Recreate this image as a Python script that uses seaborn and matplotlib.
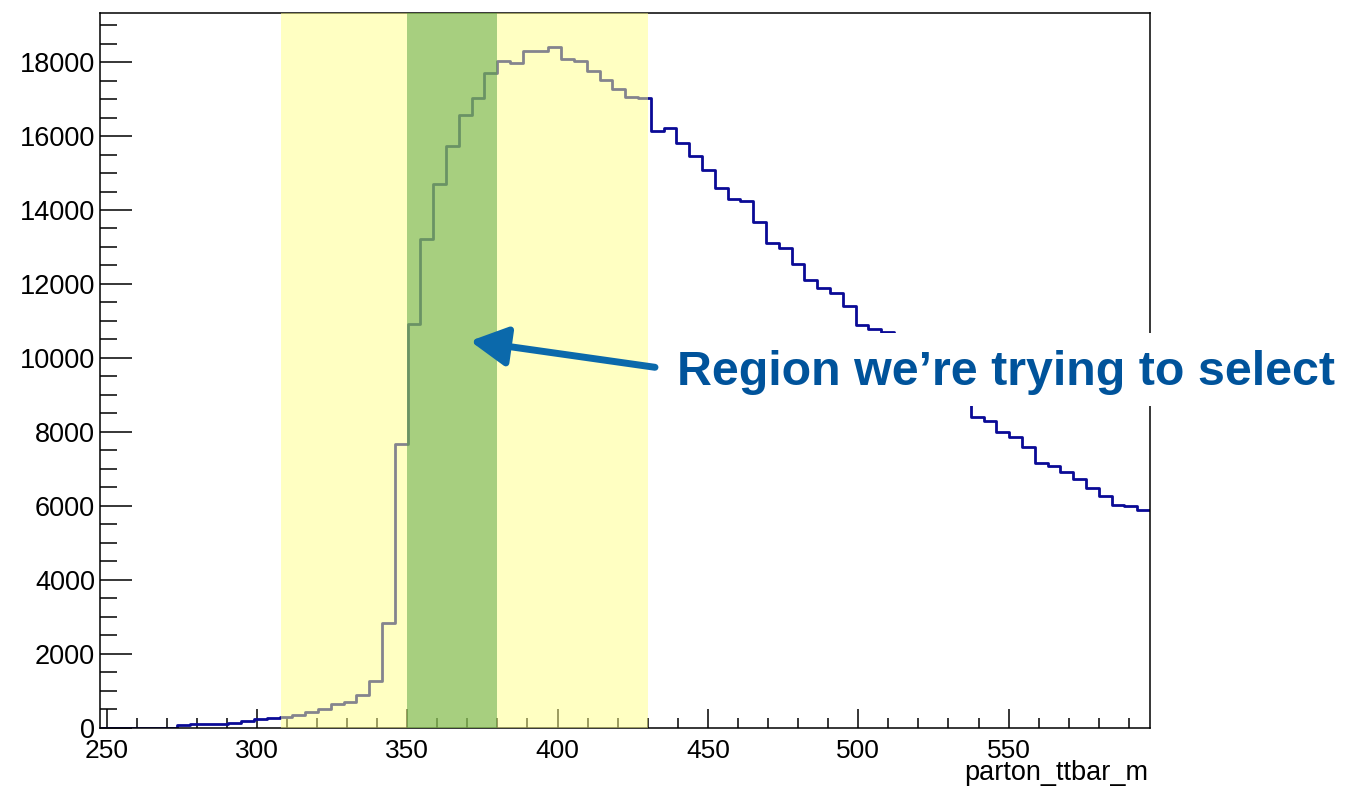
import numpy as np
import matplotlib
matplotlib.use("Agg")
import matplotlib.pyplot as plt
import seaborn as sns
from matplotlib.patches import Rectangle
from matplotlib.ticker import MultipleLocator

# parton_ttbar_m histogram: 82 equal bins between 248 and 597
x_min, x_max = 248.0, 597.0
counts = [
    0, 0, 0, 0, 0, 0, 80, 85, 90, 95,
    130, 170, 240, 255, 290, 340, 430, 500, 635, 700,
    880, 1260, 2820, 7660, 10920, 13220, 14710, 15720, 16570, 17020,
    17700, 18040, 17990, 18290, 18300, 18400, 18090, 18040, 17750, 17520,
    17280, 17070, 17020, 16130, 16220, 15820, 15450, 15090, 14590, 14300,
    14240, 13670, 13110, 12980, 12550, 12110, 11900, 11760, 11390, 10880,
    10790, 10700, 10450, 10150, 9800, 9450, 9100, 8750, 8400, 8290,
    8000, 7860, 7590, 7160, 7080, 6910, 6710, 6490, 6260, 6010,
    6000, 5880,
]
n_bins = len(counts)

yellow_band = (308, 430)
green_band = (350, 380)
note_text = "Region we\u2019re trying to select"
x_title = "parton_ttbar_m"

sns.set_style("ticks")
plt.rcParams["font.family"] = ["Liberation Sans", "DejaVu Sans"]
plt.rcParams["axes.edgecolor"] = "black"
plt.rcParams["xtick.color"] = "black"
plt.rcParams["ytick.color"] = "black"
plt.rcParams["text.color"] = "black"
plt.rcParams["axes.labelcolor"] = "black"

edges = np.linspace(x_min, x_max, n_bins + 1)
centers = 0.5 * (edges[:-1] + edges[1:])

fig = plt.figure(figsize=(13.47, 7.89), dpi=100)
ax = fig.add_axes([0.0746, 0.0779, 0.7791, 0.9052])

sns.histplot(x=centers, weights=counts, bins=n_bins, binrange=(x_min, x_max),
             element="step", fill=False, color="#0a0a96", linewidth=2.0,
             ax=ax, zorder=2)

# selection windows drawn on top, semi transparent (ROOT style)
ax.axvspan(*yellow_band, color=(1.0, 1.0, 135 / 255), alpha=0.5, lw=0, zorder=3)
ax.axvspan(*green_band, color=(81 / 255, 161 / 255, 61 / 255), alpha=0.5, lw=0, zorder=4)

ax.set_xlim(x_min, x_max)
ax.set_ylim(0, 19320)
ax.xaxis.set_major_locator(MultipleLocator(50))
ax.xaxis.set_minor_locator(MultipleLocator(10))
ax.yaxis.set_major_locator(MultipleLocator(2000))
ax.yaxis.set_minor_locator(MultipleLocator(500))

ax.tick_params(which="both", direction="in", top=False, right=False, width=1.1)
ax.tick_params(axis="x", which="major", length=13.7, labelsize=19, pad=8.0)
ax.tick_params(axis="x", which="minor", length=7)
ax.tick_params(axis="y", which="major", length=23, labelsize=19.5, pad=4.0)
ax.tick_params(axis="y", which="minor", length=12)
for sp in ax.spines.values():
    sp.set_visible(True)
    sp.set_linewidth(1.1)
    sp.set_color("black")

ax.set_ylabel("")
ax.set_xlabel(x_title, fontsize=19.5, ha="right")
ax.xaxis.set_label_coords(0.998, -0.046)

# arrow pointing into the selected region
ax.annotate("", xy=(470, 789 - 341), xycoords="figure pixels",
            xytext=(655, 789 - 367.3), textcoords="figure pixels",
            arrowprops=dict(arrowstyle="-|>,head_length=0.45,head_width=0.24",
                            color="#0b69ab", lw=5, shrinkA=0, shrinkB=0,
                            mutation_scale=50),
            annotation_clip=False, zorder=7)

# white box behind the note, it hides part of the histogram
fig.patches.append(Rectangle((0.4915, 0.4848), 0.5085, 0.0932,
                             transform=fig.transFigure, facecolor="white",
                             edgecolor="none", zorder=5))
fig.text(677 / 1347, (789 - 385) / 789, note_text, fontsize=34.8,
         fontweight="bold", color="#00539b", ha="left", va="baseline", zorder=6)

fig.savefig("out.png", dpi=100)
